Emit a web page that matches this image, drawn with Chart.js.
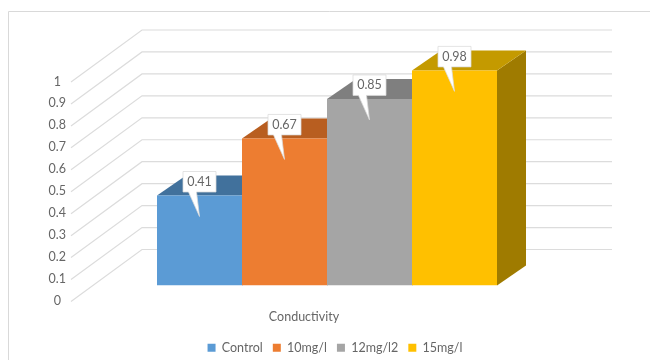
<!DOCTYPE html>
<html>
<head>
<meta charset="utf-8">
<title>Conductivity</title>
<script src="https://cdn.jsdelivr.net/npm/chart.js@4"></script>
<style>
    html, body { margin: 0; padding: 0; background: #fff; }
    #wrap { position: relative; width: 650px; height: 360px; overflow: hidden; }
</style>
</head>
<body>
<div id="wrap"><canvas id="conductivity_chart" width="650" height="360"></canvas></div>
<script>
const categories = ["Conductivity"];
const seriesNames = ["Control", "10mg/l", "12mg/l2", "15mg/l"];
const seriesValues = [[0.41], [0.67], [0.85], [0.98]];
const frontColors = ['#5B9BD5', '#ED7D31', '#A5A5A5', '#FFC000'];
const topColors = ['#41719C', '#B85E20', '#7F7F7F', '#C49A00'];
const sideColors = ['#35618A', '#9A4E1A', '#6B6B6B', '#9F7B00'];
const yTicks = [0, 0.1, 0.2, 0.3, 0.4, 0.5, 0.6, 0.7, 0.8, 0.9, 1];

const textColor = '#666666';
const barDepth = { x: 29, y: -20 };

// chart frame, open on the right and at the bottom
const chartFrame = {
    id: 'chartFrame',
    beforeDraw(chart) {
        const ctx = chart.ctx;
        ctx.save();
        ctx.strokeStyle = '#D9D9D9';
        ctx.lineWidth = 1;
        ctx.beginPath();
        ctx.moveTo(8.5, chart.height);
        ctx.lineTo(8.5, 11.5);
        ctx.lineTo(chart.width, 11.5);
        ctx.stroke();
        ctx.restore();
    }
};

// back wall and left wall lines, one per y tick
const wallGrid = {
    id: 'wallGrid',
    beforeDatasetsDraw(chart) {
        const ctx = chart.ctx;
        const yScale = chart.scales.y;
        ctx.save();
        ctx.strokeStyle = '#DCDCDC';
        ctx.lineWidth = 1.2;
        yScale.ticks.forEach((tick) => {
            const y = yScale.getPixelForValue(tick.value);
            ctx.beginPath();
            ctx.moveTo(71, y + 16);
            ctx.lineTo(142, y - 36);
            ctx.lineTo(612, y - 36);
            ctx.stroke();
        });
        ctx.restore();
    }
};

function fillFace(ctx, color, points) {
    ctx.fillStyle = color;
    ctx.beginPath();
    points.forEach((p, i) => (i ? ctx.lineTo(p[0], p[1]) : ctx.moveTo(p[0], p[1])));
    ctx.closePath();
    ctx.fill();
}

// top and right faces of each bar, offset from the bar element
const barFaces = {
    id: 'barFaces',
    beforeDatasetsDraw(chart) {
        const ctx = chart.ctx;
        chart.data.datasets.forEach((ds, i) => {
            const bar = chart.getDatasetMeta(i).data[0];
            const left = bar.x - bar.width / 2;
            const right = bar.x + bar.width / 2;
            const dx = barDepth.x, dy = barDepth.y;
            fillFace(ctx, sideColors[i], [[right, bar.y], [right + dx, bar.y + dy], [right + dx, bar.base + dy], [right, bar.base]]);
            fillFace(ctx, topColors[i], [[left, bar.y], [left + dx, bar.y + dy], [right + dx, bar.y + dy], [right, bar.y]]);
        });
    }
};

// value callouts above each bar
const callouts = {
    id: 'callouts',
    afterDatasetsDraw(chart) {
        const ctx = chart.ctx;
        chart.data.datasets.forEach((ds, i) => {
            const bar = chart.getDatasetMeta(i).data[0];
            const cx = bar.x;
            const boxLeft = cx - 16.5, boxRight = cx + 16.5;
            const boxTop = bar.y - 24, boxBottom = bar.y - 3.5;
            const tipY = bar.y + 21;

            ctx.save();
            ctx.beginPath();
            ctx.moveTo(boxLeft, boxTop);
            ctx.lineTo(boxRight, boxTop);
            ctx.lineTo(boxRight, boxBottom);
            ctx.lineTo(cx - 3, boxBottom);
            ctx.lineTo(cx, tipY);
            ctx.lineTo(cx - 11, boxBottom);
            ctx.lineTo(boxLeft, boxBottom);
            ctx.closePath();
            ctx.fillStyle = '#fff';
            ctx.fill();
            ctx.strokeStyle = '#D9D9D9';
            ctx.lineWidth = 0.75;
            ctx.stroke();

            ctx.fillStyle = textColor;
            ctx.font = '12.5px Lato';
            ctx.textAlign = 'center';
            ctx.textBaseline = 'middle';
            ctx.fillText(String(ds.data[0]), cx, (boxTop + boxBottom) / 2);
            ctx.restore();
        });
    }
};

const conductivityCtx = document.getElementById('conductivity_chart').getContext('2d');

const conductivityChart = new Chart(conductivityCtx, {
    type: 'bar',
    data: {
        labels: categories,
        datasets: seriesNames.map((name, i) => ({
            label: name,
            data: seriesValues[i],
            backgroundColor: frontColors[i],
            borderWidth: 0,
            barPercentage: 1,
            categoryPercentage: 340 / 470
        }))
    },
    options: {
        responsive: false,
        animation: false,
        layout: { padding: { left: 20, right: 0, top: 66, bottom: -4 } },
        scales: {
            x: {
                grid: { display: false },
                border: { display: false },
                ticks: {
                    color: textColor,
                    font: { family: 'Lato', size: 12.5 },
                    padding: 16,
                    labelOffset: -23
                },
                afterFit(scale) { scale.height = 46; }
            },
            y: {
                min: 0,
                max: 1,
                afterBuildTicks(scale) { scale.ticks = yTicks.map((v) => ({ value: v })); },
                grid: { display: false, drawTicks: false },
                border: { display: false },
                ticks: {
                    color: textColor,
                    font: { family: 'Lato', size: 12.5 },
                    padding: 26,
                    crossAlign: 'center',
                    labelOffset: 15.5,
                    callback: (value) => String(value)
                },
                afterFit(scale) { scale.width = 72; }
            },
            // empty axis that reserves the space right of the bars
            yEnd: {
                position: 'right',
                min: 0,
                max: 1,
                grid: { display: false, drawTicks: false },
                border: { display: false },
                ticks: { display: false },
                afterFit(scale) { scale.width = 88; }
            }
        },
        plugins: {
            tooltip: { enabled: false },
            legend: {
                position: 'bottom',
                labels: {
                    color: textColor,
                    font: { family: 'Lato', size: 12.5 },
                    boxWidth: 8,
                    boxHeight: 8,
                    padding: 10
                }
            }
        }
    },
    plugins: [chartFrame, wallGrid, barFaces, callouts]
});
</script>
</body>
</html>
